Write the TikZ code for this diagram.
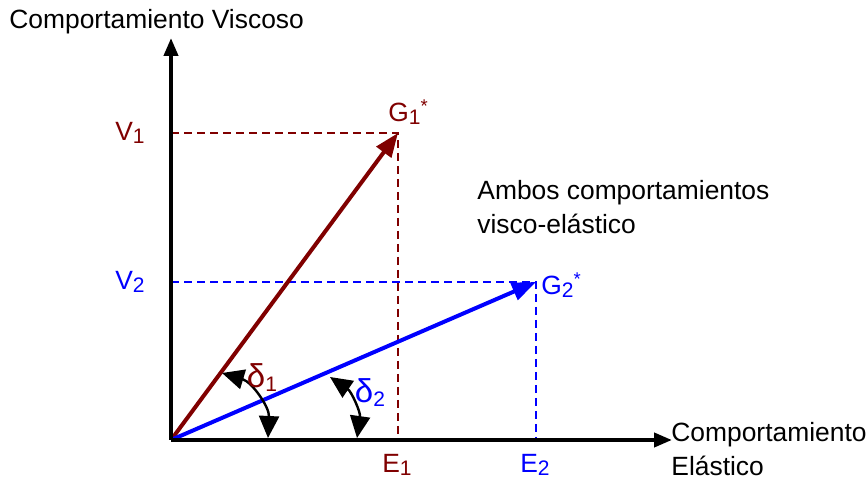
\documentclass[tikz,border=0pt]{standalone}
\usepackage{fontspec}
\setmainfont{Liberation Sans}
\usetikzlibrary{arrows.meta}
\definecolor{viscred}{RGB}{128, 0, 0}
\definecolor{elasblue}{RGB}{0, 0, 255}
\newcommand{\lowidx}[1]{\raisebox{-0.12em}{\fontsize{10.5}{12}\selectfont #1}}

\begin{document}
\begin{tikzpicture}[x=0.5pt, y=0.5pt,
  axis/.style={line width=2pt, -{Triangle[length=9pt, width=7pt]}},
  vec/.style={line width=2pt, -{Triangle[length=12pt, width=9pt]}},
  guide/.style={line width=0.75pt, dash pattern=on 4pt off 2.5pt},
  ang/.style={line width=1.2pt, {Triangle[length=11pt, width=10pt]}-{Triangle[length=11pt, width=10pt]}},
  lbl/.style={font=\fontsize{13.2}{17}\selectfont, inner sep=0pt},
  greek/.style={font=\fontsize{16.5}{17}\selectfont, inner sep=0pt},
]
  \useasboundingbox (0,0) rectangle (866,481);
  \coordinate (O) at (171,41);
  \coordinate (g1) at (398,348);
  \coordinate (g2) at (536,199);
  \coordinate (ytop) at (171,443);
  \coordinate (xend) at (672,41);
  \coordinate (v1) at (171,348);
  \coordinate (v2) at (171,199);
  \coordinate (e1) at (398,41);
  \coordinate (e2) at (536,41);

  % guias
  \draw[guide, viscred] (v1) -- (g1) -- (e1);
  \draw[guide, elasblue] (v2) -- (g2) -- (e2);

  % vectores
  \draw[vec, viscred] (O) -- (g1);
  \draw[vec, elasblue] (O) -- (g2);

  % ejes
  \draw[axis] (O) -- (ytop);
  \draw[axis] (O) -- (xend);

  % angulos
  \draw[ang] (222,108) to[bend left=38] (268,43);
  \draw[ang] (330,104) to[bend left=32] (357,43);

  \node[greek, viscred] (d1) at (262,103) {δ\lowidx{1}};
  \node[greek, elasblue] (d2) at (370,88) {δ\lowidx{2}};

  \node[lbl, viscred] (lv1) at (130,348) {V\lowidx{1}};
  \node[lbl, elasblue] (lv2) at (130,199) {V\lowidx{2}};
  \node[lbl, viscred] (le1) at (397,16) {E\lowidx{1}};
  \node[lbl, elasblue] (le2) at (535,16) {E\lowidx{2}};
  \node[lbl, viscred, anchor=west] (lg1) at (388,369) {G\lowidx{1}\textsuperscript{*}};
  \node[lbl, elasblue, anchor=west] (lg2) at (541,196) {G\lowidx{2}\textsuperscript{*}};

  \node[lbl, anchor=west, align=left] (both) at (477,274) {Ambos comportamientos\\visco-elástico};
  \node[lbl, anchor=west] (yname) at (9,459) {Comportamiento Viscoso};
  \node[lbl, anchor=west, align=left] (xname) at (671,32) {Comportamiento\\Elástico};
\end{tikzpicture}
\end{document}
